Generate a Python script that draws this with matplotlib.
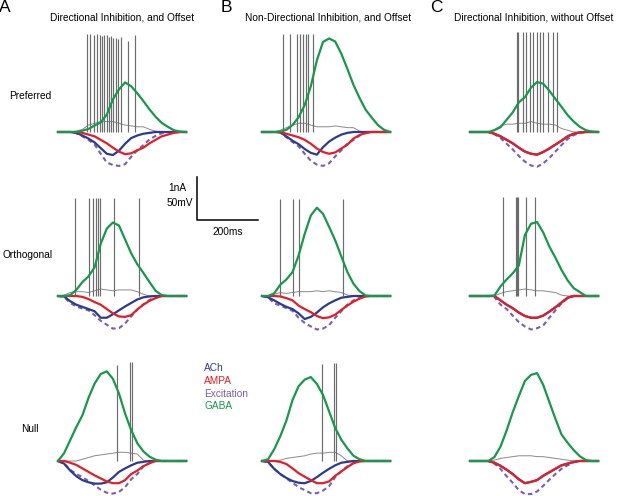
import numpy as np
import matplotlib.pyplot as plt

plt.rcParams['font.family'] = ['Liberation Sans', 'DejaVu Sans']

# sample times (ms) for every trace
t = np.arange(0, 421, 20)

# ---- Directional inhibition, and offset (A) ----
gaba_A_pref = [0, 0, 0, 0, .03, .07, .15, .22, .40, .75, .98, 1.14, 1.05, .89, .71, .52, .35, .21, .12, .04, .01, 0]
ach_A_pref = [0, 0, 0, -.02, -.08, -.15, -.24, -.37, -.50, -.53, -.43, -.27, -.14, -.08, -.04, -.02, 0, 0, 0, 0, 0, 0]
ampa_A_pref = [0, 0, 0, 0, -.02, -.06, -.10, -.18, -.26, -.36, -.45, -.51, -.49, -.42, -.36, -.26, -.18, -.10, -.06, -.02, 0, 0]
exc_A_pref = [0, 0, 0, -.03, -.10, -.18, -.29, -.50, -.70, -.76, -.78, -.74, -.57, -.42, -.30, -.17, -.09, -.03, 0, 0, 0, 0]
vm_A_pref = [0, 0, 0, 1, 3, 8, 10, 12, 12, 12, 10, 8, 7, 6, 6, 3, 1, 0, 0, 0, 0, 0]
spk_A_pref = [96, 105, 119, 127, 138, 143, 152, 160, 166, 174, 181, 190, 198, 205, 231, 252]
top_A_pref = [113, 113, 112, 113, 111, 110, 112, 111, 109, 110, 108, 108, 107, 109, 105, 111]

gaba_A_orth = [0, 0, .02, .14, .32, .45, .66, 1.2, 1.55, 1.69, 1.62, 1.30, .98, .73, .53, .32, .12, .02, 0, 0, 0, 0]
ach_A_orth = [0, -.01, -.12, -.20, -.25, -.30, -.35, -.50, -.50, -.42, -.33, -.24, -.16, -.08, -.03, -.01, 0, 0, 0, 0, 0, 0]
ampa_A_orth = [0, 0, 0, 0, -.02, -.07, -.14, -.20, -.30, -.40, -.47, -.48, -.44, -.31, -.20, -.11, -.05, 0, 0, 0, 0, 0]
exc_A_orth = [0, -.02, -.16, -.24, -.29, -.33, -.44, -.57, -.66, -.75, -.74, -.63, -.47, -.31, -.19, -.09, -.03, 0, 0, 0, 0, 0]
vm_A_orth = [0, 1, 4, 5, 5, 4, 6, 8, 7, 6, 7, 7, 7, 5, 2, 0, 0, 0, 0, 0, 0, 0]
spk_A_orth = [56, 103, 116, 124, 130, 138, 184, 264]
top_A_orth = [113] * 8

gaba_A_null = [0, .18, .48, .78, 1.05, 1.45, 1.78, 2.00, 2.06, 1.89, 1.55, 1.09, .71, .41, .22, .10, .03, 0, 0, 0, 0, 0]
ach_A_null = [0, -.06, -.22, -.35, -.44, -.49, -.52, -.52, -.49, -.38, -.25, -.17, -.10, -.04, -.02, 0, 0, 0, 0, 0, 0, 0]
ampa_A_null = [0, 0, -.04, -.09, -.17, -.25, -.33, -.40, -.47, -.51, -.51, -.44, -.30, -.22, -.12, -.05, 0, 0, 0, 0, 0, 0]
exc_A_null = [0, -.06, -.20, -.30, -.37, -.46, -.56, -.66, -.73, -.75, -.71, -.60, -.42, -.30, -.12, -.05, 0, 0, 0, 0, 0, 0]
vm_A_null = [0, 0, 0, 0, 2, 4, 6, 7, 8, 9, 10, 10, 9, 8, 1, 0, 0, 0, 0, 0, 0, 0]
spk_A_null = [195, 236, 242]
top_A_null = [110, 114, 114]

# ---- Non-directional inhibition, and offset (B) ----
gaba_B_pref = [0, 0, 0, .01, .05, .16, .34, .62, 1.05, 1.65, 2.07, 2.15, 2.08, 1.80, 1.45, 1.08, .78, .51, .33, .16, .05, 0]
ach_B_pref = [0, 0, 0, -.01, -.10, -.20, -.28, -.39, -.48, -.52, -.35, -.22, -.13, -.06, -.02, 0, 0, 0, 0, 0, 0, 0]
ampa_B_pref = [0, 0, 0, 0, -.04, -.08, -.12, -.18, -.27, -.38, -.46, -.50, -.47, -.38, -.29, -.15, -.07, -.02, 0, 0, 0, 0]
exc_B_pref = [0, 0, 0, -.01, -.12, -.23, -.33, -.50, -.66, -.75, -.78, -.72, -.56, -.42, -.27, -.18, -.08, -.03, 0, 0, 0, 0]
vm_B_pref = [0, 0, 0, 2, 5, 8, 10, 10, 8, 6, 6, 6, 7, 6, 5, 5, 1, 0, 0, 0, 0, 0]
spk_B_pref = [68, 92, 116, 125, 136, 144, 152, 166]
top_B_pref = [113] * 8

gaba_B_orth = [0, 0, .06, .26, .38, .55, .93, 1.43, 1.85, 2.03, 1.89, 1.59, 1.28, .91, .55, .28, .11, .01, 0, 0, 0, 0]
ach_B_orth = [0, -.03, -.10, -.18, -.25, -.30, -.40, -.53, -.48, -.38, -.26, -.17, -.10, -.04, -.02, 0, 0, 0, 0, 0, 0, 0]
ampa_B_orth = [0, 0, 0, -.01, -.05, -.10, -.22, -.30, -.37, -.46, -.51, -.49, -.43, -.32, -.22, -.13, -.06, -.01, 0, 0, 0, 0]
exc_B_orth = [0, -.03, -.17, -.22, -.28, -.34, -.50, -.62, -.70, -.77, -.75, -.67, -.50, -.35, -.20, -.10, -.04, 0, 0, 0, 0, 0]
vm_B_orth = [0, 0, 2, 4, 3, 4, 5, 5, 5, 6, 5, 6, 5, 4, 1, 0, 0, 0, 0, 0, 0, 0]
spk_B_orth = [59, 103, 120, 267]
top_B_orth = [112] * 4

gaba_B_null = [0, .04, .27, .57, .93, 1.40, 1.72, 1.87, 1.93, 1.77, 1.52, 1.14, .76, .49, .29, .12, .04, 0, 0, 0, 0, 0]
ach_B_null = [0, -.02, -.18, -.30, -.39, -.46, -.50, -.51, -.46, -.37, -.27, -.18, -.10, -.04, -.02, 0, 0, 0, 0, 0, 0, 0]
ampa_B_null = [0, 0, 0, -.02, -.07, -.17, -.28, -.36, -.44, -.51, -.51, -.47, -.34, -.24, -.14, -.05, -.01, 0, 0, 0, 0, 0]
exc_B_null = [0, -.03, -.18, -.30, -.40, -.50, -.60, -.67, -.74, -.74, -.68, -.58, -.37, -.24, -.12, -.05, 0, 0, 0, 0, 0, 0]
vm_B_null = [0, 0, 0, 1, 3, 4, 5, 6, 8, 9, 9, 10, 10, 6, 0, 0, 0, 0, 0, 0, 0, 0]
spk_B_null = [196, 236, 243]
top_B_null = [112, 113, 113]

# ---- Directional inhibition, without offset (C) ----
gaba_C_pref = [0, 0, 0, 0, .04, .11, .28, .45, .68, .80, 1.02, 1.15, 1.11, .95, .76, .58, .39, .24, .12, .04, .01, 0]
ach_C_pref = [0, 0, 0, 0, -.04, -.10, -.18, -.26, -.36, -.45, -.50, -.52, -.46, -.38, -.29, -.20, -.10, -.04, -.01, 0, 0, 0]
ampa_C_pref = [0, 0, 0, 0, -.04, -.10, -.18, -.26, -.36, -.45, -.50, -.52, -.46, -.38, -.29, -.20, -.10, -.04, -.01, 0, 0, 0]
exc_C_pref = [0, 0, 0, 0, -.05, -.14, -.27, -.40, -.55, -.68, -.77, -.80, -.72, -.60, -.45, -.30, -.16, -.07, -.02, 0, 0, 0]
vm_C_pref = [0, 0, 0, 0, 3, 7, 9, 9, 10, 10, 12, 10, 9, 9, 8, 4, 2, 0, 0, 0, 0, 0]
spk_C_pref = [153, 158, 175, 182, 197, 208, 219, 230, 240, 257, 273, 284]
top_C_pref = [115] * 12

gaba_C_orth = [0, 0, 0, 0, .01, .22, .38, .52, .70, 1.40, 1.66, 1.70, 1.46, 1.14, .88, .60, .36, .18, .09, 0, 0, 0]
ach_C_orth = [0, 0, 0, 0, 0, -.10, -.20, -.28, -.38, -.46, -.50, -.50, -.45, -.36, -.26, -.15, -.04, 0, 0, 0, 0, 0]
ampa_C_orth = [0, 0, 0, 0, 0, -.10, -.20, -.28, -.38, -.46, -.50, -.50, -.45, -.36, -.26, -.15, -.04, 0, 0, 0, 0, 0]
exc_C_orth = [0, 0, 0, 0, -.02, -.20, -.30, -.45, -.60, -.70, -.77, -.74, -.68, -.50, -.33, -.17, -.05, 0, 0, 0, 0, 0]
vm_C_orth = [0, 0, 0, 0, 0, 3, 5, 6, 7, 8, 7, 6, 6, 5, 4, 1, 0, 0, 0, 0, 0, 0]
spk_C_orth = [107, 150, 154, 159, 183, 213]
top_C_orth = [114] * 6

gaba_C_null = [0, 0, 0, 0, .09, .33, .70, 1.12, 1.49, 1.84, 1.98, 2.02, 1.75, 1.36, .97, .61, .42, .25, .11, .02, 0, 0]
ach_C_null = [0, 0, 0, 0, -.04, -.11, -.20, -.30, -.42, -.51, -.48, -.44, -.34, -.26, -.18, -.10, -.06, -.02, 0, 0, 0, 0]
ampa_C_null = [0, 0, 0, 0, -.04, -.11, -.20, -.30, -.42, -.51, -.48, -.44, -.34, -.26, -.18, -.10, -.06, -.02, 0, 0, 0, 0]
exc_C_null = [0, 0, 0, 0, -.06, -.18, -.35, -.50, -.67, -.76, -.76, -.70, -.57, -.43, -.30, -.18, -.10, -.03, 0, 0, 0, 0]
vm_C_null = [0, 0, 0, 0, 1, 3, 4, 5, 6, 6, 6, 5, 5, 4, 3, 2, 1, 0, 0, 0, 0, 0]
spk_C_null = []
top_C_null = []

col_titles = ['Directional Inhibition, and Offset',
              'Non-Directional Inhibition, and Offset',
              'Directional Inhibition, without Offset']
col_letters = ['A', 'B', 'C']
row_labels = ['Preferred', 'Orthogonal', 'Null']
legend_names = ['ACh', 'AMPA', 'Excitation', 'GABA']

BLUE = '#2b3b93'
RED = '#e41e26'
PURPLE = '#7a5db4'
GREEN = '#15994a'
GREY = '#8a8a8a'
SPIKE = '#6c6c6c'

panels = {
    ('A', 0): (gaba_A_pref, ach_A_pref, ampa_A_pref, exc_A_pref, vm_A_pref, spk_A_pref, top_A_pref),
    ('A', 1): (gaba_A_orth, ach_A_orth, ampa_A_orth, exc_A_orth, vm_A_orth, spk_A_orth, top_A_orth),
    ('A', 2): (gaba_A_null, ach_A_null, ampa_A_null, exc_A_null, vm_A_null, spk_A_null, top_A_null),
    ('B', 0): (gaba_B_pref, ach_B_pref, ampa_B_pref, exc_B_pref, vm_B_pref, spk_B_pref, top_B_pref),
    ('B', 1): (gaba_B_orth, ach_B_orth, ampa_B_orth, exc_B_orth, vm_B_orth, spk_B_orth, top_B_orth),
    ('B', 2): (gaba_B_null, ach_B_null, ampa_B_null, exc_B_null, vm_B_null, spk_B_null, top_B_null),
    ('C', 0): (gaba_C_pref, ach_C_pref, ampa_C_pref, exc_C_pref, vm_C_pref, spk_C_pref, top_C_pref),
    ('C', 1): (gaba_C_orth, ach_C_orth, ampa_C_orth, exc_C_orth, vm_C_orth, spk_C_orth, top_C_orth),
    ('C', 2): (gaba_C_null, ach_C_null, ampa_C_null, exc_C_null, vm_C_null, spk_C_null, top_C_null),
}

# layout in pixels
W, H = 617, 496
px_ms = 0.305      # 200 ms = 61 px
px_nA = 43.5       # 1 nA = 50 mV
ylo, yhi = -1.0, 2.7
col_x0 = [58, 262, 470]
row_base = [132, 296, 461]

fig = plt.figure(figsize=(W / 100, H / 100), dpi=100)


def add_px_axes(left, top, w, h):
    return fig.add_axes([left / W, 1 - (top + h) / H, w / W, h / H])


for ci, letter in enumerate(col_letters):
    for ri in range(3):
        gaba, ach, ampa, exc, vm, spk, tops = panels[(letter, ri)]
        base = row_base[ri]
        ax = add_px_axes(col_x0[ci], base - yhi * px_nA, 420 * px_ms, (yhi - ylo) * px_nA)
        ax.set_xlim(0, 420)
        ax.set_ylim(ylo, yhi)
        ax.axis('off')
        ax.plot(t, np.array(vm) / 50, color=GREY, lw=0.7, clip_on=False)
        if spk:
            ax.vlines(spk, 0, np.array(tops) / 50, color=SPIKE, lw=0.85)
        ax.plot(t, exc, color=PURPLE, lw=1.5, ls=(0, (2.2, 1.6)), clip_on=False)
        ax.plot(t, ach, color=BLUE, lw=1.6, clip_on=False)
        ax.plot(t, ampa, color=RED, lw=1.6, clip_on=False)
        ax.plot(t, gaba, color=GREEN, lw=1.6, clip_on=False)

# scale bar
sb = add_px_axes(197, 220 - px_nA, 200 * px_ms, px_nA)
sb.set_xlim(0, 200)
sb.set_ylim(0, 1)
sb.axis('off')
sb.plot([0, 0, 200], [1, 0, 0], color='black', lw=1.1, clip_on=False)

fs = 7.3
fig.text(168 / W, 1 - 188 / H, '1nA', fontsize=fs, va='center', ha='left')
fig.text(167 / W, 1 - 203 / H, '50mV', fontsize=fs, va='center', ha='left')
fig.text(228 / W, 1 - 232 / H, '200ms', fontsize=fs, va='center', ha='center')

# column headings
for x, letter in zip([5, 226, 436], col_letters):
    fig.text(x / W, 1 - 8 / H, letter, fontsize=12.5, va='center', ha='center')
for x, title in zip([122, 328, 534], col_titles):
    fig.text(x / W, 1 - 18 / H, title, fontsize=fs, va='center', ha='center')

# row labels
for (x, y), lab in zip([(30, 96), (28, 255), (30, 429)], row_labels):
    fig.text(x / W, 1 - y / H, lab, fontsize=fs, va='center', ha='center')

# legend
for y, name, c in zip([368, 381, 394, 406], legend_names, [BLUE, RED, PURPLE, GREEN]):
    fig.text(204 / W, 1 - y / H, name, fontsize=fs, va='center', ha='left', color=c)

fig.savefig('out.png', dpi=100)
